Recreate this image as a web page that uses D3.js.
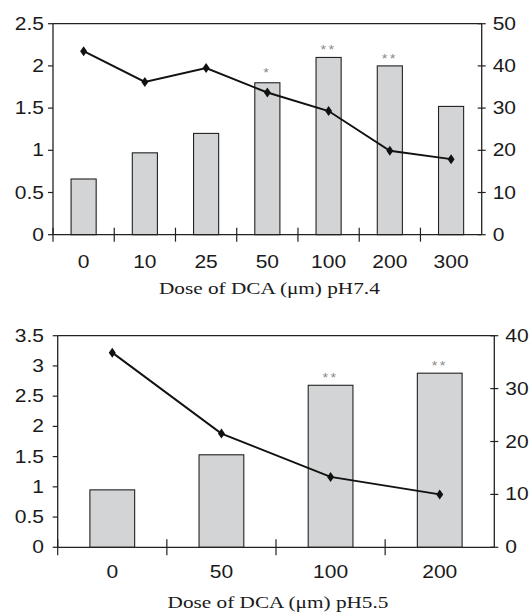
<!DOCTYPE html>
<html lang="en">
  <head>
    <meta charset="UTF-8" />
    <title>Dose of DCA</title>
    <script src="https://cdnjs.cloudflare.com/ajax/libs/d3/7.8.5/d3.min.js"></script>
    <style>
      body { margin: 0; background: #fff; }
      svg { display: block; }
      .tick-label { font-family: "Liberation Sans", Arial, sans-serif; font-size: 17.5px; fill: #1a1a1a; }
      .title { font-family: "Liberation Serif", "Times New Roman", serif; font-size: 17px; fill: #1a1a1a; }
      .star { font-family: "Liberation Sans", Arial, sans-serif; font-size: 12px; fill: #8a8a8a; }
    </style>
  </head>
  <body>
    <svg width="530" height="613"></svg>
    <script>
      // pH 7.4 panel
      var dose74 = ["0", "10", "25", "50", "100", "200", "300"];
      var bars74 = [0.66, 0.97, 1.2, 1.8, 2.1, 2.0, 1.52];
      var line74 = [43.5, 36.2, 39.5, 33.7, 29.3, 19.9, 17.9];
      var stars74 = ["", "", "", "*", "**", "**", ""];

      // pH 5.5 panel
      var dose55 = ["0", "50", "100", "200"];
      var bars55 = [0.95, 1.53, 2.68, 2.88];
      var line55 = [36.8, 21.5, 13.3, 10];
      var stars55 = ["", "", "**", "**"];

      var svg = d3.select("svg");
      var SX = 1.2; // text in the figure is stretched horizontally

      function label(g, cls, x, y, txt, anchor, sx) {
        return g.append("text")
          .attr("class", cls)
          .attr("text-anchor", anchor)
          .attr("transform", "translate(" + x + "," + y + ") scale(" + sx + ",1)")
          .text(txt);
      }

      function panel(o) {
        var g = svg.append("g");
        var x = d3.scaleBand().domain(o.cats).range([o.left, o.right]);
        var yL = d3.scaleLinear().domain([0, o.lMax]).range([o.bottom, o.top]);
        var yR = d3.scaleLinear().domain([0, o.rMax]).range([o.bottom, o.top]);
        var bw = x.bandwidth() * 0.41;
        var ink = "#222";

        // bars
        g.selectAll("rect.bar").data(o.bars).enter().append("rect")
          .attr("class", "bar")
          .attr("x", (d, i) => x(o.cats[i]) + (x.bandwidth() - bw) / 2)
          .attr("y", d => yL(d))
          .attr("width", bw)
          .attr("height", d => yL(0) - yL(d))
          .attr("fill", "#d3d4d5")
          .attr("stroke", ink)
          .attr("stroke-width", 1.1);

        // significance stars
        o.stars.forEach((s, i) => {
          if (!s) return;
          var up = s.length === 1 ? 6 : 3;
          label(g, "star", x(o.cats[i]) + x.bandwidth() / 2, yL(o.bars[i]) - up, s, "middle", 1.2)
            .attr("letter-spacing", 2);
        });

        // frame: top line, left and right axes, x axis
        g.append("line").attr("x1", o.left).attr("x2", o.right).attr("y1", o.top).attr("y2", o.top)
          .attr("stroke", ink).attr("stroke-width", 1.2);
        g.append("line").attr("x1", o.left).attr("x2", o.right).attr("y1", o.bottom).attr("y2", o.bottom)
          .attr("stroke", ink).attr("stroke-width", 1.3);
        g.append("line").attr("x1", o.left).attr("x2", o.left).attr("y1", o.top).attr("y2", o.bottom)
          .attr("stroke", ink).attr("stroke-width", 1.3);
        g.append("line").attr("x1", o.right).attr("x2", o.right).attr("y1", o.top).attr("y2", o.bottom)
          .attr("stroke", ink).attr("stroke-width", 1.3);

        // left ticks
        yL.ticks(o.lMax / 0.5).forEach(t => {
          g.append("line").attr("x1", o.left - 5).attr("x2", o.left).attr("y1", yL(t)).attr("y2", yL(t))
            .attr("stroke", ink).attr("stroke-width", 1.2);
          label(g, "tick-label", o.lLab, yL(t) + 6, t, "end", SX);
        });

        // right ticks (crossing the axis)
        yR.ticks(o.rMax / 10).forEach(t => {
          g.append("line").attr("x1", o.right - 4).attr("x2", o.right + 4).attr("y1", yR(t)).attr("y2", yR(t))
            .attr("stroke", ink).attr("stroke-width", 1.2);
          label(g, "tick-label", o.right + o.rGap, yR(t) + 6, t, "start", SX);
        });

        // category boundary ticks
        o.cats.forEach((c, i) => {
          g.append("line").attr("x1", x(c)).attr("x2", x(c))
            .attr("y1", o.bottom - o.tk).attr("y2", o.bottom + o.tk)
            .attr("stroke", ink).attr("stroke-width", 1.2);
          label(g, "tick-label", x(c) + x.bandwidth() / 2, o.xLab, c, "middle", SX);
        });

        // line series
        var pts = o.line.map((d, i) => [x(o.cats[i]) + x.bandwidth() / 2, yR(d)]);
        g.append("path").attr("d", d3.line()(pts))
          .attr("fill", "none").attr("stroke", "#111").attr("stroke-width", 1.9);
        var diamond = "M0,-5L3.5,0L0,5L-3.5,0Z";
        g.selectAll("path.mk").data(pts).enter().append("path")
          .attr("class", "mk")
          .attr("d", diamond)
          .attr("transform", d => "translate(" + d[0] + "," + d[1] + ")")
          .attr("fill", "#111");

        label(g, "title", (o.left + o.right) / 2 + 2, o.tLab, o.title, "middle", 1.25);
      }

      panel({
        cats: dose74, bars: bars74, line: line74, stars: stars74,
        left: 53, right: 481.7, top: 23.7, bottom: 234.7,
        lMax: 2.5, rMax: 50, lLab: 44, rGap: 11, tk: 7,
        xLab: 268, tLab: 294, title: "Dose of DCA (\u03bcm) pH7.4"
      });

      panel({
        cats: dose55, bars: bars55, line: line55, stars: stars55,
        left: 57.7, right: 494.3, top: 335.7, bottom: 547.3,
        lMax: 3.5, rMax: 40, lLab: 44, rGap: 11, tk: 8,
        xLab: 578, tLab: 608, title: "Dose of DCA (\u03bcm) pH5.5"
      });
    </script>
  </body>
</html>
